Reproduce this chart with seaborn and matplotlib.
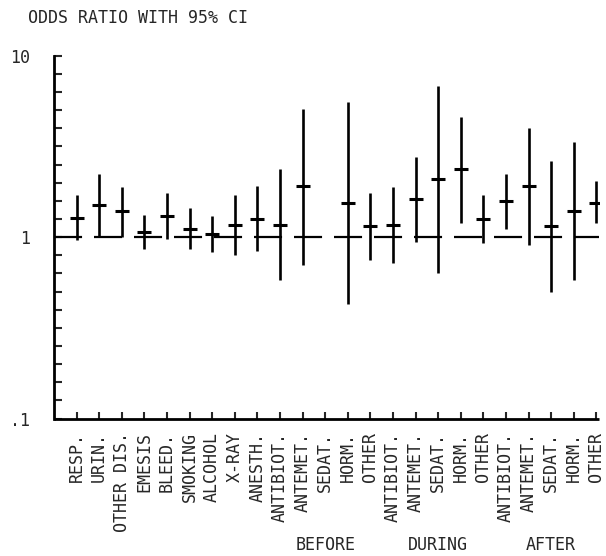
import numpy as np
import pandas as pd
import matplotlib
matplotlib.use("Agg")
import matplotlib.pyplot as plt
import matplotlib.transforms as mtransforms
from matplotlib.ticker import FixedLocator, FixedFormatter, NullLocator
import seaborn as sns

# ---- data ----
labels = ["RESP.", "URIN.", "OTHER DIS.", "EMESIS", "BLEED.", "SMOKING", "ALCOHOL", "X-RAY",
          "ANESTH.", "ANTIBIOT.", "ANTEMET.", "SEDAT.", "HORM.", "OTHER",
          "ANTIBIOT.", "ANTEMET.", "SEDAT.", "HORM.", "OTHER",
          "ANTIBIOT.", "ANTEMET.", "SEDAT.", "HORM.", "OTHER"]
odds_ratio = [1.27, 1.50, 1.39, 1.07, 1.31, 1.11, 1.04, 1.17,
              1.26, 1.17, 1.91, np.nan, 1.55, 1.15,
              1.16, 1.62, 2.10, 2.36, 1.26,
              1.58, 1.91, 1.15, 1.40, 1.55]
ci_lower = [0.96, 1.00, 1.00, 0.86, 0.97, 0.86, 0.83, 0.80,
            0.84, 0.58, 0.70, np.nan, 0.43, 0.75,
            0.72, 0.94, 0.63, 1.19, 0.93,
            1.11, 0.91, 0.50, 0.58, 1.19]
ci_upper = [1.70, 2.24, 1.89, 1.33, 1.74, 1.45, 1.31, 1.70,
            1.91, 2.36, 5.08, np.nan, 5.53, 1.76,
            1.89, 2.77, 6.83, 4.60, 1.71,
            2.24, 3.97, 2.62, 3.35, 2.03]
group_names = ["BEFORE", "DURING", "AFTER"]
group_centers = [11, 16, 21]
ytick_values = [10 ** (k / 10) for k in range(-10, 11)]
ytick_labels = {-10: ".1", 0: "1", 10: "10"}

df = pd.DataFrame({"pos": np.arange(len(labels)), "label": labels,
                   "or": odds_ratio, "lo": ci_lower, "hi": ci_upper})

# ---- style ----
sns.set_style("white")
plt.rcParams["font.family"] = ["DejaVu Sans Mono", "DejaVu Sans"]
plt.rcParams["lines.scale_dashes"] = False
FS = 12

fig = plt.figure(figsize=(6.06, 5.56), dpi=100)
left, right = 54 / 606, 599 / 606
bottom, top = 1 - 418.5 / 556, 1 - 55.7 / 556
ax = fig.add_axes([left, bottom, right - left, top - bottom])

# reference line at 1
ax.axhline(1, color="black", lw=1.6, linestyle=(0, (20.2, 8.6)), zorder=1)

# CI lines
ax.vlines(df["pos"], df["lo"], df["hi"], color="black", lw=1.9, zorder=2)
# point estimates
sns.scatterplot(data=df, x="pos", y="or", marker="_", s=110, color="black",
                linewidth=2.2, ax=ax, zorder=3, legend=False)

ax.set_yscale("log")
ax.set_ylim(0.1, 10)
ax.set_xlim(-1, 23.12)
ax.yaxis.set_major_locator(FixedLocator(ytick_values))
ax.yaxis.set_major_formatter(FixedFormatter(
    [ytick_labels.get(k, "") for k in range(-10, 11)]))
ax.yaxis.set_minor_locator(NullLocator())
ax.set_xticks(df["pos"])
ax.set_xticklabels(labels, rotation=90, fontsize=FS, va="top")
ax.tick_params(axis="x", direction="in", length=5, width=1.5, pad=10, bottom=True)
ax.tick_params(axis="y", direction="in", length=6, width=1.5, pad=17, left=True,
               labelsize=FS)
ax.set_xlabel("")
ax.set_ylabel("")
for side in ["top", "right"]:
    ax.spines[side].set_visible(False)
for side in ["left", "bottom"]:
    ax.spines[side].set_linewidth(2)
    ax.spines[side].set_color("black")
ax.spines["bottom"].set_capstyle("butt")

trans = mtransforms.blended_transform_factory(ax.transData, ax.transAxes)
for name, c in zip(group_names, group_centers):
    ax.text(c, -0.349, name, transform=trans, ha="center", va="center", fontsize=FS)

fig.text(28 / 606, 1 - 18 / 556, "ODDS RATIO WITH 95% CI", ha="left", va="center",
         fontsize=FS)

fig.savefig("out.png", dpi=100)
